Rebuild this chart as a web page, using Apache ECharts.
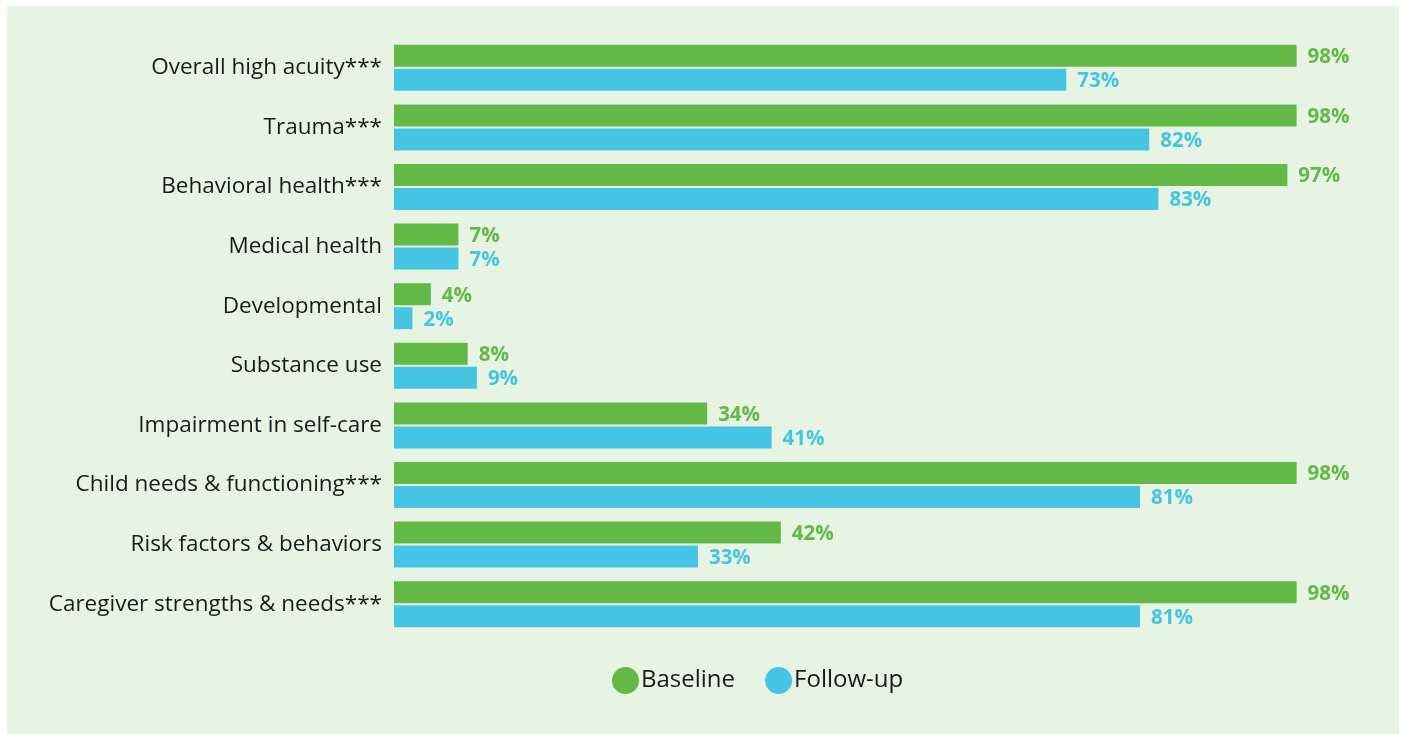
<!DOCTYPE html>
<html>
<head>
<meta charset="utf-8">
<script src="https://cdn.jsdelivr.net/npm/echarts@6/dist/echarts.min.js"></script>
<style>
  html, body { margin: 0; padding: 0; background: #ffffff; }
  #frame { position: absolute; left: 7px; top: 6px; width: 1392px; height: 728px; background: #e7f4e3; }
  #chart { position: absolute; left: -7px; top: -6px; width: 1403px; height: 734px; }
</style>
</head>
<body>
<div id="frame"><div id="chart"></div></div>
<script>
// Domains assessed, top to bottom
const categories = [
  'Overall high acuity***',
  'Trauma***',
  'Behavioral health***',
  'Medical health',
  'Developmental',
  'Substance use',
  'Impairment in self-care',
  'Child needs & functioning***',
  'Risk factors & behaviors',
  'Caregiver strengths & needs***'
];
// Percent of cases flagged at each time point
const baseline = [98, 98, 97, 7, 4, 8, 34, 98, 42, 98];
const followUp = [73, 82, 83, 7, 2, 9, 41, 81, 33, 81];

const GREEN = '#62b946';
const BLUE = '#45c4e4';
const FONT = '"Open Sans", "Noto Sans", sans-serif';

const chart = echarts.init(document.getElementById('chart'), null, { renderer: 'canvas' });

function valueLabel(color) {
  return {
    show: true,
    position: 'right',
    distance: 11,
    offset: [0, 1.5],
    formatter: p => p.value + '%',
    color: color,
    fontFamily: FONT,
    fontWeight: 'bold',
    fontSize: 20.5
  };
}

chart.setOption({
  backgroundColor: 'transparent',
  animation: false,
  grid: { left: 394, right: 88, top: 38, bottom: 100, containLabel: false },
  legend: {
    top: 662,
    left: 607,
    itemWidth: 27,
    itemHeight: 27,
    itemGap: 30,
    icon: 'circle',
    textStyle: { fontFamily: FONT, fontSize: 24, color: '#1a1a1a', padding: [0, 0, 0, -3] },
    data: ['Baseline', 'Follow-up']
  },
  xAxis: {
    type: 'value',
    min: 0,
    max: 100,
    show: false
  },
  yAxis: {
    type: 'category',
    data: categories,
    inverse: true,
    axisLine: { show: false },
    axisTick: { show: false },
    splitLine: { show: false },
    axisLabel: {
      margin: 12,
      fontFamily: FONT,
      fontSize: 22.5,
      color: '#1a1a1a'
    }
  },
  series: [
    {
      name: 'Baseline',
      type: 'bar',
      data: baseline,
      barWidth: 22,
      barGap: '9%',
      itemStyle: { color: GREEN },
      label: valueLabel(GREEN)
    },
    {
      name: 'Follow-up',
      type: 'bar',
      data: followUp,
      barWidth: 22,
      itemStyle: { color: BLUE },
      label: valueLabel(BLUE)
    }
  ]
});
</script>
</body>
</html>
